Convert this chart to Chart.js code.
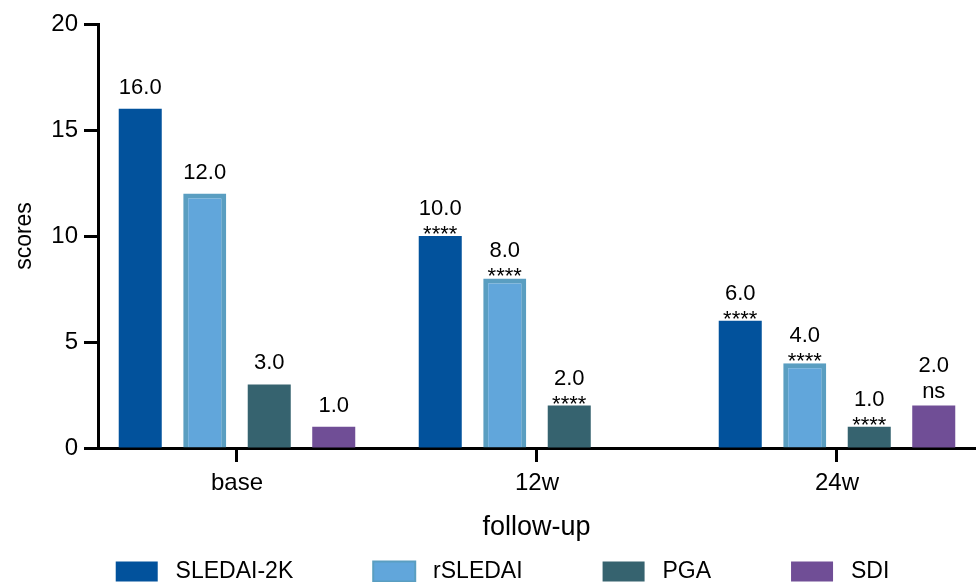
<!DOCTYPE html>
<html><head><meta charset="utf-8">
<script src="https://cdn.jsdelivr.net/npm/chart.js@4.4.1/dist/chart.umd.min.js"></script>
<style>html,body{margin:0;padding:0;background:#fff;overflow:hidden}#wrap{width:978px;height:582px;position:relative}</style>
</head><body><div id="wrap"><canvas id="c" width="978" height="582"></canvas></div>
<script>
const categories = ['base', '12w', '24w'];
const seriesNames = ['SLEDAI-2K', 'rSLEDAI', 'PGA', 'SDI'];
const sledai2k = [16.0, 10.0, 6.0];
const rsledai = [12.0, 8.0, 4.0];
const pga = [3.0, 2.0, 1.0];
const sdi = [1.0, null, 2.0];
const sledai2kSig = ['', '****', '****'];
const rsledaiSig = ['', '****', '****'];
const pgaSig = ['', '****', '****'];
const sdiSig = ['', '', 'ns'];
const yTicks = [0, 5, 10, 15, 20];

const FAMILY = '"Liberation Sans", Arial, Helvetica, sans-serif';
const seriesValues = [sledai2k, rsledai, pga, sdi];
const seriesSig = [sledai2kSig, rsledaiSig, pgaSig, sdiSig];
const seriesFill = ['#02529c', '#61a6db', '#36636f', '#704e96'];
const seriesBorder = ['#02529c', '#5a9ec1', '#36636f', '#704e96'];
const seriesBorderW = [0, 5, 0, 0];

const valueLabels = {
  id: 'valueLabels',
  afterDatasetsDraw(chart) {
    const ctx = chart.ctx;
    ctx.save();
    ctx.fillStyle = '#000';
    ctx.textAlign = 'center';
    ctx.textBaseline = 'alphabetic';
    ctx.font = '22px ' + FAMILY;
    chart.data.datasets.forEach((ds, di) => {
      const meta = chart.getDatasetMeta(di);
      meta.data.forEach((bar, i) => {
        const v = seriesValues[di][i];
        if (v === null || v === undefined) return;
        const sig = seriesSig[di][i];
        const x = bar.x, top = bar.y;
        let numY, sigY;
        if (!sig) numY = top - 15;
        else if (sig === 'ns') { numY = top - 34; sigY = top - 8; }
        else { numY = top - 21; sigY = top + 5; }
        ctx.fillText(v.toFixed(1), x, numY);
        if (sig) ctx.fillText(sig, x, sigY);
      });
    });
    ctx.restore();
  }
};

const legendPlace = {
  id: 'legendPlace',
  afterLayout(chart) {
    const lg = chart.legend;
    if (!lg) return;
    const p = lg.options.labels.padding;
    lg.left += 15; lg.right += 15;
    lg.top = 560 - p;
  }
};

new Chart(document.getElementById('c'), {
  type: 'bar',
  data: {
    datasets: seriesNames.map((name, di) => ({
      label: name,
      data: seriesValues[di].map((v, i) => ({x: i, y: v})),
      backgroundColor: seriesFill[di],
      borderColor: seriesBorder[di],
      borderWidth: seriesBorderW[di],
      categoryPercentage: 0.86,
      barPercentage: 0.667
    }))
  },
  options: {
    responsive: false,
    devicePixelRatio: 1,
    animation: false,
    layout: {padding: {top: 24, right: 3, left: 0, bottom: 0}},
    plugins: {
      tooltip: {enabled: false},
      legend: {
        position: 'bottom',
        maxHeight: 36,
        labels: {
          boxWidth: 42, boxHeight: 20, padding: 80, color: '#000',
          font: {size: 23, family: FAMILY},
          generateLabels: (chart) => Chart.defaults.plugins.legend.labels.generateLabels(chart).map(l => Object.assign(l, {text: ' ' + l.text, lineWidth: l.lineWidth ? 2 : 0}))
        }
      }
    },
    scales: {
      x: {
        type: 'linear',
        offset: false,
        min: -0.4633, max: 2.46,
        grid: {offset: false, drawOnChartArea: false, drawTicks: true, tickLength: 14, tickWidth: 3, tickColor: '#000'},
        border: {display: true, width: 3, color: '#000'},
        ticks: {stepSize: 1, includeBounds: false, autoSkip: false, maxRotation: 0, padding: 7, color: '#000',
          font: {size: 24, family: FAMILY},
          callback: (v) => (categories[v] !== undefined ? categories[v] : '')},
        title: {display: true, text: 'follow-up', color: '#000', font: {size: 27, family: FAMILY}, padding: {top: 0, bottom: 2}},
        afterFit: (s) => { s.height = 98; }
      },
      y: {
        min: yTicks[0], max: yTicks[yTicks.length - 1],
        grid: {drawOnChartArea: false, drawTicks: true, tickLength: 14, tickWidth: 3, tickColor: '#000'},
        border: {display: true, width: 3, color: '#000'},
        ticks: {stepSize: yTicks[1] - yTicks[0], padding: 6, color: '#000', font: {size: 24, family: FAMILY}},
        title: {display: true, text: 'scores', color: '#000', font: {size: 23, family: FAMILY}, padding: {top: 11, bottom: 0}},
        afterFit: (s) => { s.width = 98; }
      }
    }
  },
  plugins: [valueLabels, legendPlace]
});
</script>
</body></html>
